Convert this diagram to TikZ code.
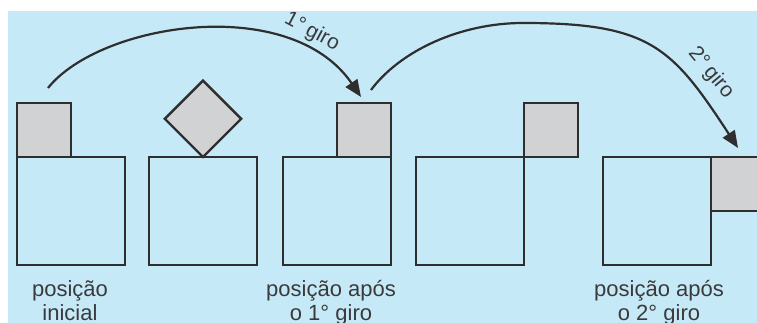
\documentclass[tikz,border=0pt]{standalone}
\usepackage{fontspec}
\setmainfont{Liberation Sans}
\usetikzlibrary{arrows.meta}
\definecolor{bgblue}{HTML}{C6E9F8}
\definecolor{grayf}{HTML}{D1D2D4}
\definecolor{linec}{HTML}{2E2E2E}
\definecolor{textc}{HTML}{3A3A3A}
\tikzset{
  bigsq/.style={draw=linec, line width=2.4pt, minimum size=108pt, inner sep=0pt},
  smallsq/.style={draw=linec, fill=grayf, line width=2.4pt, minimum size=54pt, inner sep=0pt},
  girarrow/.style={draw=linec, line width=2.2pt, -{Triangle[length=17pt,width=14pt]}},
  lbl/.style={text=textc, font=\fontsize{22}{24.5}\selectfont, align=center, inner sep=0pt, anchor=base},
  girolbl/.style={text=textc, font=\fontsize{21}{24}\selectfont, inner sep=0pt}
}
\begin{document}
\begin{tikzpicture}[x=1pt,y=1pt]
\useasboundingbox (0,0) rectangle (757,323);
\fill[white] (0,0) rectangle (757,323);
\fill[bgblue] (8,0) rectangle (757,312);
\begin{scope}
\clip (0,0) rectangle (757,323);
% big squares
\node[bigsq] (bigA) at (71,112) {};
\node[bigsq] (bigB) at (203,112) {};
\node[bigsq] (bigC) at (337,112) {};
\node[bigsq] (bigD) at (470,112) {};
\node[bigsq] (bigE) at (657,112) {};
% small squares
\node[smallsq] (smA) at (44,193) {};
\node[smallsq, rotate=45] (smB) at (203,204.2) {};
\node[smallsq] (smC) at (364,193) {};
\node[smallsq] (smD) at (551,193) {};
\node[smallsq] (smE) at (738,139) {};
\end{scope}
% arrows
\coordinate (s1) at (48,235);
\coordinate (e1) at (361,226);
\coordinate (s2) at (371,233);
\coordinate (p2) at (523,300);
\coordinate (e2) at (738,175);
\draw[girarrow] (s1) .. controls (100,300) and (290,330) .. (e1);
\draw[girarrow] (s2) .. controls (400,272) and (460,300) .. (p2)
   .. controls (650,300) and (672,276) .. (e2);
\node[girolbl, rotate=-28] (g1) at (312,291) {1°\hspace{-0.1em} giro};
\node[girolbl, rotate=-50] (g2) at (711,250) {2°\hspace{-0.1em} giro};
% labels
\node[lbl] (l1) at (70,2) {posição\\inicial};
\node[lbl] (l2) at (331,2) {posição após\\o 1° giro};
\node[lbl] (l3) at (659,2) {posição após\\o 2° giro};
\end{tikzpicture}
\end{document}
